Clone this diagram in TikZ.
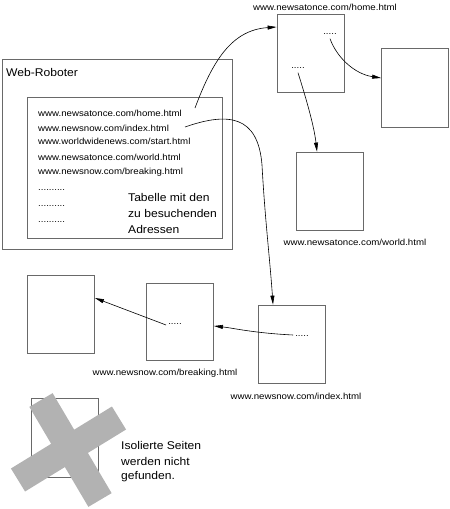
\documentclass[tikz,border=0pt]{standalone}
\usepackage{fontspec}
\usepackage{graphicx}
\setmainfont{Liberation Sans}
\usetikzlibrary{arrows.meta,calc}
\definecolor{boxgray}{RGB}{105,105,105}
\definecolor{xgray}{RGB}{178,178,178}
\newcommand\smtxt[1]{\scalebox{1.1}[1]{\fontsize{8.8}{10}\selectfont #1}}
\newcommand\bgtxt[1]{\scalebox{1.08}[1]{\fontsize{11.2}{13}\selectfont #1}}
\begin{document}
\begin{tikzpicture}[x=1pt,y=-1pt,
  frame/.style={draw=boxgray,line width=0.8pt,inner sep=0pt},
  pagebox/.style={frame,minimum width=67pt,minimum height=78pt},
  txt/.style={inner sep=0pt},
  link/.style={draw=black,line width=0.6pt,-{Triangle[length=9pt,width=4pt]}},
  xbar/.style={draw=xgray,line width=27pt}]
\useasboundingbox (0,0) rectangle (450,509);

% Web-Roboter
\node[frame,minimum width=230pt,minimum height=190pt] (robot) at (117,154) {};
\node[txt,anchor=west] (robotlbl) at (6,72) {\bgtxt{Web-Roboter}};
\node[frame,minimum width=195pt,minimum height=141pt] (table) at (124.5,167.5) {};
\node[txt,anchor=west] (u1) at (38,113) {\smtxt{www.newsatonce.com/home.html}};
\node[txt,anchor=west] (u2) at (38,128) {\smtxt{www.newsnow.com/index.html}};
\node[txt,anchor=west] (u3) at (38,141) {\smtxt{www.worldwidenews.com/start.html}};
\node[txt,anchor=west] (u4) at (38,157) {\smtxt{www.newsatonce.com/world.html}};
\node[txt,anchor=west] (u5) at (38,172) {\smtxt{www.newsnow.com/breaking.html}};
\node[txt,anchor=west] (d1) at (38,190) {\smtxt{..........}};
\node[txt,anchor=west] (d2) at (38,206) {\smtxt{..........}};
\node[txt,anchor=west] (d3) at (38,222) {\smtxt{..........}};
\node[txt,anchor=west] (t1) at (128,197) {\bgtxt{Tabelle mit den}};
\node[txt,anchor=west] (t2) at (128,213) {\bgtxt{zu besuchenden}};
\node[txt,anchor=west] (t3) at (128,229) {\bgtxt{Adressen}};
\coordinate (a1) at (195,108);
\coordinate (a2) at (185,127);

% pages
\node[pagebox] (home) at (310.5,53.5) {};
\node[txt] (homelbl) at (325,7) {\smtxt{www.newsatonce.com/home.html}};
\node[txt] (hd1) at (330,34) {\smtxt{.....}};
\node[txt] (hd2) at (298,68) {\smtxt{.....}};
\node[pagebox,minimum height=79pt] (right) at (415,87.5) {};
\node[pagebox] (world) at (329.5,191) {};
\node[txt] (worldlbl) at (355,242) {\smtxt{www.newsatonce.com/world.html}};
\node[pagebox] (leftp) at (61,314) {};
\node[pagebox,minimum height=77pt] (breaking) at (180,321.5) {};
\node[txt] (breaklbl) at (165,373) {\smtxt{www.newsnow.com/breaking.html}};
\node[txt] (bd) at (175,324) {\smtxt{.....}};
\node[pagebox] (index) at (292,344) {};
\node[txt] (indexlbl) at (296,396) {\smtxt{www.newsnow.com/index.html}};
\node[txt] (id) at (302,336) {\smtxt{.....}};

% isolated page
\node[pagebox,minimum height=79pt] (iso) at (64.5,437.5) {};
\draw[xbar] (41,400) -- (100,500);
\draw[xbar] (18,480) -- (119,418);
\node[txt,anchor=west] (i1) at (121,445) {\bgtxt{Isolierte Seiten}};
\node[txt,anchor=west] (i2) at (121,461) {\bgtxt{werden nicht}};
\node[txt,anchor=west] (i3) at (121,477) {\bgtxt{gefunden.}};

% links
\draw[link] (a1) .. controls (213,60) and (232,30) .. ([yshift=26.5pt]home.west);
\draw[link] (a2) .. controls (228,112) and (258,115) .. (262,165)
  .. controls (265,220) and (270,260) .. ([xshift=-19pt]index.north);
\draw[link] ([yshift=-4pt]hd1.south) .. controls (337,58) and (355,74) .. ([yshift=9.5pt]right.west);
\draw[link] ([yshift=-4pt]hd2.south) .. controls (305,95) and (314,125) .. ([xshift=-12.5pt]world.north);
\draw[link] ([xshift=-2pt,yshift=1pt]id.west) .. controls (253,333) and (233,328) .. ([yshift=-4.5pt]breaking.east);
\draw[link] ([xshift=-2pt,yshift=-1pt]bd.west) -- ([yshift=16pt]leftp.east);
\end{tikzpicture}
\end{document}
